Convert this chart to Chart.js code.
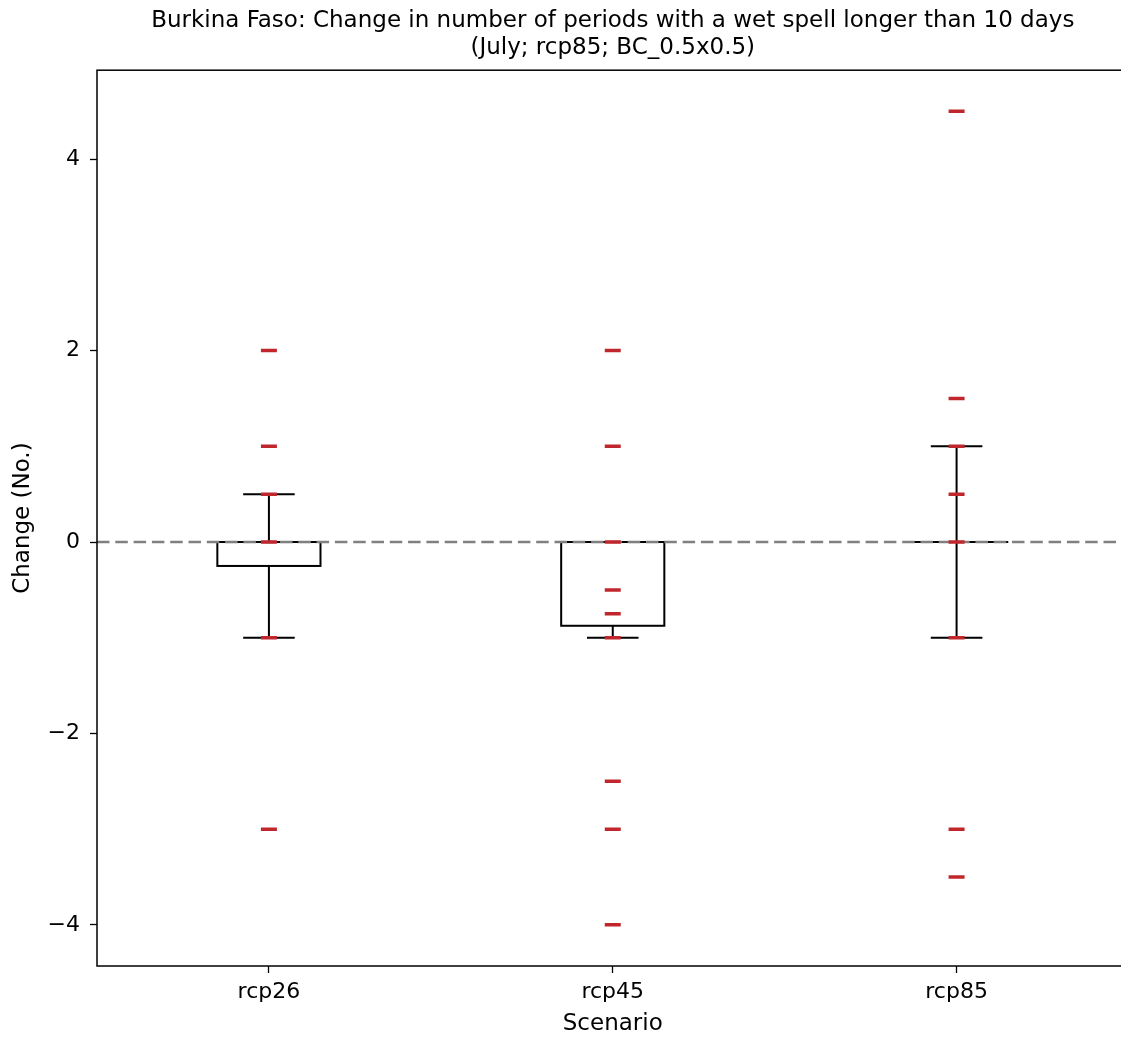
<!DOCTYPE html>
<html>
<head>
<meta charset="utf-8">
<script src="https://cdn.jsdelivr.net/npm/chart.js@4.4.1/dist/chart.umd.min.js"></script>
<style>
  body { margin: 0; overflow: hidden; background: #fff; }
</style>
</head>
<body>
<canvas id="boxChart" width="1140" height="1038"></canvas>
<script>
// Scenarios on the x axis (positions 1, 2, 3)
const scenarios = ['rcp26', 'rcp45', 'rcp85'];
const positions = [1, 2, 3];

// Individual model values (red dashes), one list per scenario
const valuesRcp26 = [2, 1, 0.5, 0, -1, -3];
const valuesRcp45 = [2, 1, 0, -0.5, -0.75, -1, -2.5, -3, -4];
const valuesRcp85 = [4.5, 1.5, 1, 0.5, 0, -1, -3, -3.5];

// Box statistics per scenario
const boxQ1 = [-0.25, -0.875, 0];
const boxQ3 = [0, 0, 0];
const medians = [0, 0, 0];
const whiskerLow = [-1, -1, -1];
const whiskerHigh = [0.5, 0, 1];

const yTicks = [-4, -2, 0, 2, 4];

const BOX_WIDTH = 0.3;   // in x units
const CAP_WIDTH = 0.15;
const FONT = 'DejaVu Sans';

const allValues = [valuesRcp26, valuesRcp45, valuesRcp85];
const points = [];
allValues.forEach((vals, i) => {
    vals.forEach(v => points.push({ x: positions[i], y: v }));
});

// Boxes, whiskers and caps drawn through the chart scales
const boxPlugin = {
    id: 'boxes',
    beforeDatasetsDraw(chart) {
        const { ctx, scales: { x, y } } = chart;
        ctx.save();
        ctx.strokeStyle = '#000';
        ctx.lineWidth = 2;
        positions.forEach((p, i) => {
            const xl = x.getPixelForValue(p - BOX_WIDTH / 2);
            const xr = x.getPixelForValue(p + BOX_WIDTH / 2);
            const xc = x.getPixelForValue(p);
            const cl = x.getPixelForValue(p - CAP_WIDTH / 2);
            const cr = x.getPixelForValue(p + CAP_WIDTH / 2);
            const yq1 = y.getPixelForValue(boxQ1[i]);
            const yq3 = y.getPixelForValue(boxQ3[i]);
            const ylo = y.getPixelForValue(whiskerLow[i]);
            const yhi = y.getPixelForValue(whiskerHigh[i]);
            const ym = y.getPixelForValue(medians[i]);

            ctx.beginPath();
            // whiskers
            ctx.moveTo(xc, yq1); ctx.lineTo(xc, ylo);
            ctx.moveTo(xc, yq3); ctx.lineTo(xc, yhi);
            // caps
            ctx.moveTo(cl, ylo); ctx.lineTo(cr, ylo);
            ctx.moveTo(cl, yhi); ctx.lineTo(cr, yhi);
            // median
            ctx.moveTo(xl, ym); ctx.lineTo(xr, ym);
            ctx.stroke();
            ctx.strokeRect(xl, yq3, xr - xl, yq1 - yq3);
        });
        ctx.restore();
    },
    afterDraw(chart) {
        const { ctx, chartArea: a } = chart;
        ctx.save();
        ctx.strokeStyle = '#000';
        ctx.lineWidth = 1.5;
        ctx.strokeRect(a.left, a.top, a.right - a.left, a.bottom - a.top);
        ctx.restore();
    }
};

const ctx = document.getElementById('boxChart').getContext('2d');
new Chart(ctx, {
    type: 'scatter',
    data: {
        datasets: [
            {
                label: 'values',
                data: points,
                pointStyle: 'line',
                pointRadius: 8,
                pointBorderWidth: 3.5,
                borderColor: '#c0272d',
                backgroundColor: '#c0272d',
                order: 0
            },
            {
                type: 'line',
                label: 'zero',
                data: [{ x: 0.5, y: 0 }, { x: 3.5, y: 0 }],
                borderColor: '#808080',
                borderWidth: 2.5,
                borderDash: [12.5, 5.8],
                pointRadius: 0,
                order: 1
            }
        ]
    },
    options: {
        responsive: false,
        devicePixelRatio: 1,
        animation: false,
        layout: { padding: { top: 0, right: 11, bottom: 0, left: 0 } },
        plugins: {
            legend: { display: false },
            tooltip: { enabled: false },
            title: {
                display: true,
                fullSize: false,
                text: ['Burkina Faso: Change in number of periods with a wet spell longer than 10 days',
                       '(July; rcp85; BC_0.5x0.5)'],
                color: '#000',
                font: { family: FONT, size: 23, weight: 'normal', lineHeight: 1.2 },
                padding: { top: 7, bottom: 8 }
            }
        },
        scales: {
            x: {
                type: 'linear',
                min: 0.5,
                max: 3.5,
                afterBuildTicks: s => { s.ticks = positions.map(v => ({ value: v })); },
                afterFit: s => { s.height = 72; },
                ticks: {
                    color: '#000',
                    font: { family: FONT, size: 22 },
                    padding: 6,
                    callback: v => scenarios[positions.indexOf(v)]
                },
                grid: { display: true, drawOnChartArea: false, drawTicks: true, tickLength: 7, tickColor: '#000', tickWidth: 1.3 },
                border: { display: false },
                title: { display: true, text: 'Scenario', color: '#000', font: { family: FONT, size: 23 }, padding: { top: 0, bottom: 0 } }
            },
            y: {
                type: 'linear',
                min: -4.43,
                max: 4.93,
                afterBuildTicks: s => { s.ticks = yTicks.map(v => ({ value: v })); },
                afterFit: s => { s.width = 97; },
                ticks: {
                    color: '#000',
                    font: { family: FONT, size: 22 },
                    padding: 10,
                    callback: v => String(v).replace('-', '\u2212')
                },
                grid: { display: true, drawOnChartArea: false, drawTicks: true, tickLength: 7, tickColor: '#000', tickWidth: 1.3 },
                border: { display: false },
                title: { display: true, text: 'Change (No.)', color: '#000', font: { family: FONT, size: 23 }, padding: { top: 9, bottom: 0 } }
            }
        }
    },
    plugins: [boxPlugin]
});
</script>
</body>
</html>
